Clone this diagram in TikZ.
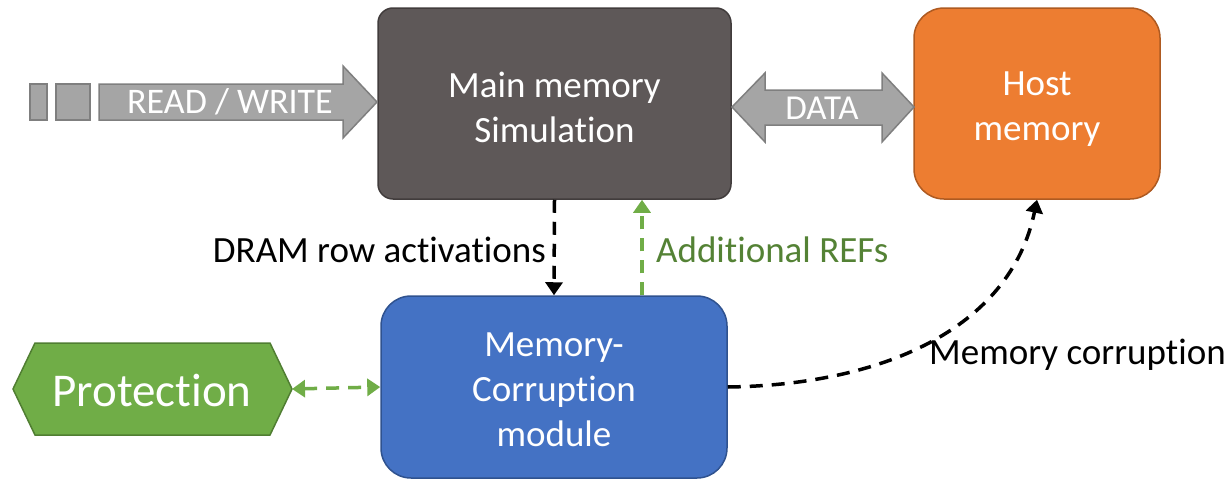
\documentclass[tikz,border=0pt]{standalone}
\usepackage{fontspec}
\setmainfont{Carlito}[Ligatures=NoCommon]
\usetikzlibrary{arrows.meta,shapes.geometric}
\definecolor{boxgray}{HTML}{5E5858}
\definecolor{boxgrayedge}{HTML}{413C3C}
\definecolor{hostor}{HTML}{ED7D31}
\definecolor{hostedge}{HTML}{AE5A21}
\definecolor{modblue}{HTML}{4472C4}
\definecolor{modedge}{HTML}{2F528F}
\definecolor{protgreen}{HTML}{70AD47}
\definecolor{protedge}{HTML}{507E32}
\definecolor{reftext}{HTML}{548235}
\definecolor{arrfill}{HTML}{A5A5A5}
\definecolor{arredge}{HTML}{7F7F7F}
\tikzset{
  x=1pt,y=-1pt,
  box/.style={draw,line width=1.5pt,inner sep=0pt},
  boxtext/.style={text=white,align=center,inner sep=0pt,
    font=\fontsize{37}{45}\selectfont},
  fatarrow/.style={fill=arrfill,draw=arredge,line width=1.5pt,line join=miter},
  arrtext/.style={text=white,inner sep=0pt,anchor=center},
  lbl/.style={font=\fontsize{37}{45}\selectfont,inner sep=0pt},
  dashblack/.style={draw=black,line width=3.5pt,dash pattern=on 13pt off 9pt,
    -{Triangle[length=13pt,width=17pt]}},
  dashgreen/.style={draw=protgreen,line width=3.5pt,dash pattern=on 13pt off 9pt,
    -{Triangle[length=13pt,width=17pt]}},
}
\begin{document}
\begin{tikzpicture}
\useasboundingbox (0,0) rectangle (1231,482);
% boxes
\node[box,fill=boxgray,draw=boxgrayedge,rounded corners=15pt,
  minimum width=353pt,minimum height=191pt] (main) at (554.5,103.5) {};
\node[boxtext] (maint) at (554.5,107) {Main memory\\Simulation};
\node[box,fill=hostor,draw=hostedge,rounded corners=30pt,
  minimum width=246pt,minimum height=191pt] (host) at (1037,103.5) {};
\node[boxtext] (hostt) at (1037,109) {Host\\memory};
\node[box,fill=modblue,draw=modedge,rounded corners=30pt,
  minimum width=346pt,minimum height=182pt] (mod) at (554,387) {};
\node[boxtext] (modt) at (554,390) {Memory-\\Corruption\\module};
% protection hexagon
\draw[fill=protgreen,draw=protedge,line width=1.5pt]
  (13,389) -- (35,343) -- (270,343) -- (292,389) -- (270,435) -- (35,435) -- cycle;
\coordinate (protE) at (292,389);
\node[text=white,inner sep=0pt,font=\fontsize{47}{55}\selectfont] (prot) at (152,390) {Protection};
% read/write arrow
\draw[fatarrow] (30,84) rectangle (47,120);
\draw[fatarrow] (56,84) rectangle (90,120);
\draw[fatarrow] (99,84) -- (343,84) -- (343,66) -- (377,102) -- (343,138) -- (343,120) -- (99,120) -- cycle;
\node[arrtext,font=\fontsize{36}{40}\selectfont] (rw) at (230,102) {READ / WRITE};
% data arrow
\draw[fatarrow] (732,107) -- (765,73) -- (765,90) -- (882,90) -- (882,73) -- (914,107)
  -- (882,142) -- (882,125) -- (765,125) -- (765,142) -- cycle;
\node[arrtext,font=\fontsize{35}{40}\selectfont] (data) at (822,108) {DATA};
% connectors
\draw[dashblack] (main.south) -- (mod.north);
\draw[dashgreen] (mod.north -| 642,0) -- (main.south -| 642,0);
\draw[dashgreen,{Triangle[length=13pt,width=17pt]}-{Triangle[length=13pt,width=17pt]}] (protE) -- (mod.west);
\draw[dashblack] (mod.east) .. controls (880,385) and (1010,330) .. (host.south);
% labels
\node[lbl,anchor=east] (l1) at (546,250) {DRAM row activations};
\node[lbl,anchor=west,text=reftext] (l2) at (656,250) {Additional REFs};
\node[lbl,anchor=west] (l3) at (929,355) {Memory corruption};
\end{tikzpicture}
\end{document}
